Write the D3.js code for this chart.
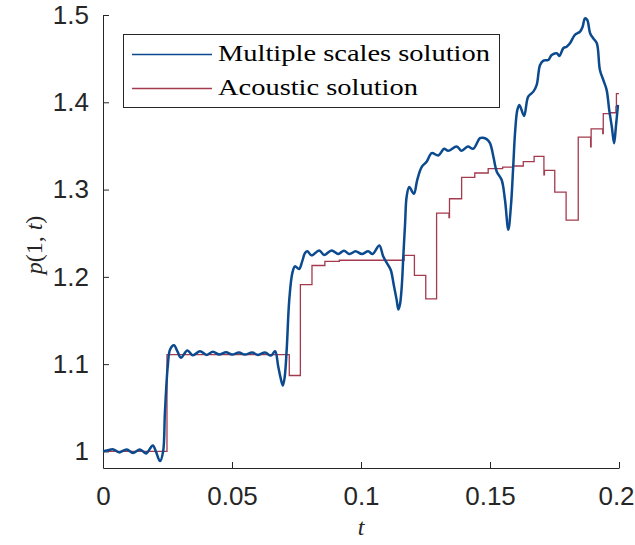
<!DOCTYPE html>
<html>
<head>
<meta charset="utf-8">
<script src="https://cdn.jsdelivr.net/npm/d3@7"></script>
<style>
  body { margin: 0; background: #fff; }
  .axis path, .axis line { stroke: #262626; stroke-width: 1; }
  .axis text { font-family: "Liberation Sans", Arial, sans-serif; font-size: 26px; fill: #262626; }
</style>
</head>
<body>
<svg id="chart" width="635" height="545"></svg>
<script>
// Tick values and labels
const xTicks = [0, 0.05, 0.1, 0.15, 0.2];
const xTickLabels = ["0", "0.05", "0.1", "0.15", "0.2"];
const yTicks = [1, 1.1, 1.2, 1.3, 1.4, 1.5];
const yTickLabels = ["1", "1.1", "1.2", "1.3", "1.4", "1.5"];
const seriesNames = ["Multiple scales solution", "Acoustic solution"];

// Multiple scales solution p(1,t)
const multipleT = [
  0, 0.0016, 0.0040, 0.0062, 0.0092, 0.0116, 0.0143, 0.0167, 0.0193, 0.0205,
  0.0221, 0.0233, 0.0240, 0.0251, 0.0260, 0.0275, 0.0289, 0.0302, 0.0327, 0.0348,
  0.0376, 0.0402, 0.0426, 0.0450, 0.0477, 0.0500, 0.0527, 0.0550, 0.0578, 0.0601,
  0.0628, 0.0651, 0.0667, 0.0679, 0.0688, 0.0697, 0.0704, 0.0712, 0.0722, 0.0734,
  0.0744, 0.0760, 0.0772, 0.0783, 0.0792, 0.0809, 0.0838, 0.0857, 0.0886, 0.0912,
  0.0934, 0.0955, 0.0979, 0.1003, 0.1028, 0.1045, 0.1071, 0.1086, 0.1100, 0.1115,
  0.1128, 0.1138, 0.1145, 0.1151, 0.1158, 0.1164, 0.1171, 0.1177, 0.1187, 0.1205,
  0.1218, 0.1235, 0.1255, 0.1274, 0.1300, 0.1322, 0.1338, 0.1371, 0.1390, 0.1414,
  0.1435, 0.1461, 0.1473, 0.1487, 0.1500, 0.1513, 0.1526, 0.1545, 0.1558, 0.1571,
  0.1581, 0.1590, 0.1597, 0.1606, 0.1614, 0.1632, 0.1648, 0.1668, 0.1681, 0.1694,
  0.1707, 0.1726, 0.1739, 0.1759, 0.1769, 0.1784, 0.1797, 0.1810, 0.1829, 0.1849,
  0.1859, 0.1868, 0.1877, 0.1888, 0.1900, 0.1914, 0.1926, 0.1939, 0.1952, 0.1962,
  0.1972, 0.1981, 0.1988, 0.1996
];
const multipleP = [
  1.000, 1.001, 1.0023, 0.9989, 1.0023, 0.9983, 1.0023, 0.9977, 1.0069, 1.000,
  0.9889, 1.000, 1.0446, 1.0976, 1.1167, 1.1216, 1.1144, 1.1072, 1.1156, 1.1102,
  1.1148, 1.1106, 1.1141, 1.1110, 1.1136, 1.1110, 1.1133, 1.1110, 1.1133, 1.1106,
  1.1133, 1.1098, 1.1148, 1.0976, 1.0847, 1.0755, 1.0847, 1.1167, 1.1739, 1.2045,
  1.2120, 1.2090, 1.2177, 1.2273, 1.2292, 1.2246, 1.2303, 1.2251, 1.2303, 1.2262,
  1.2300, 1.2262, 1.2292, 1.2262, 1.2292, 1.2262, 1.2360, 1.2235, 1.2159, 1.2082,
  1.1891, 1.1739, 1.1625, 1.1682, 1.1891, 1.2235, 1.2617, 1.2921, 1.3029, 1.2952,
  1.3112, 1.3257, 1.3322, 1.3418, 1.3390, 1.3467, 1.3444, 1.3493, 1.3444, 1.3493,
  1.3467, 1.3589, 1.3593, 1.3578, 1.3532, 1.3379, 1.3207, 1.3112, 1.2883, 1.2540,
  1.2807, 1.3264, 1.3646, 1.3913, 1.3970, 1.3844, 1.4065, 1.4122, 1.4199, 1.4428,
  1.4477, 1.4485, 1.4542, 1.4562, 1.4531, 1.4619, 1.4637, 1.4676, 1.4771, 1.4809,
  1.4866, 1.4962, 1.4943, 1.4791, 1.4733, 1.4676, 1.4371, 1.4256, 1.4142, 1.3913,
  1.3722, 1.3532, 1.3722, 1.3970
];

// Acoustic solution p(1,t): piecewise constant, each value holds until the next time
const acousticT = [
  0, 0.0248, 0.0722, 0.0765, 0.0810, 0.0860, 0.0916, 0.1167, 0.1207, 0.1251,
  0.1293, 0.1341, 0.1343, 0.1390, 0.1441, 0.1493, 0.1549, 0.1590, 0.1629, 0.1671,
  0.1709, 0.1711, 0.1751, 0.1795, 0.1842, 0.1890, 0.1892, 0.1937, 0.1939, 0.1967,
  0.1988, 0.1990, 0.2
];
const acousticP = [
  1.000, 1.111, 1.087, 1.191, 1.213, 1.2177, 1.219, 1.2246, 1.2017, 1.1747,
  1.273, 1.268, 1.2895, 1.314, 1.319, 1.324, 1.3258, 1.327, 1.332, 1.338,
  1.317, 1.322, 1.297, 1.265, 1.360, 1.349, 1.3696, 1.364, 1.387, 1.388,
  1.395, 1.410, 1.410
];

const svg = d3.select("#chart");
const x = d3.scaleLinear().domain([0, 0.2]).range([103, 619]);
const y = d3.scaleLinear().domain([0.981, 1.5]).range([468, 15]);

// Axes: ticks pointing inward, no surrounding box
const xAxis = d3.axisBottom(x).tickValues(xTicks)
  .tickFormat((d, i) => xTickLabels[i]).tickSizeInner(-6).tickSizeOuter(0).tickPadding(19);
const yAxis = d3.axisLeft(y).tickValues(yTicks)
  .tickFormat((d, i) => yTickLabels[i]).tickSizeInner(-6).tickSizeOuter(0).tickPadding(14);

const gx = svg.append("g").attr("class", "axis").attr("transform", "translate(0,468)").call(xAxis);
svg.append("g").attr("class", "axis").attr("transform", "translate(103,0)").call(yAxis);
svg.selectAll(".axis").attr("font-family", null).attr("font-size", null);
svg.selectAll(".axis .domain").attr("fill", "none");
// keep the last x tick label inside the canvas
gx.selectAll(".tick text").filter((d, i, n) => i === n.length - 1).attr("dx", -3);

const multiple = multipleT.map((t, i) => [t, multipleP[i]]);
const acoustic = acousticT.map((t, i) => [t, acousticP[i]]);

svg.append("path")
  .datum(acoustic)
  .attr("fill", "none")
  .attr("stroke", "#a33a4e")
  .attr("stroke-width", 1.3)
  .attr("d", d3.line().x(d => x(d[0])).y(d => y(d[1])).curve(d3.curveStepAfter));

svg.append("path")
  .datum(multiple)
  .attr("fill", "none")
  .attr("stroke", "#0b4a8e")
  .attr("stroke-width", 2.5)
  .attr("stroke-linejoin", "round")
  .attr("d", d3.line().x(d => x(d[0])).y(d => y(d[1])).curve(d3.curveCatmullRom.alpha(0.5)));

// Legend
const legend = svg.append("g");
legend.append("rect")
  .attr("x", 123.5).attr("y", 34.5).attr("width", 376).attr("height", 73)
  .attr("fill", "#fff").attr("stroke", "#262626").attr("stroke-width", 1);
const legendColors = ["#0b4a8e", "#a33a4e"];
seriesNames.forEach((name, i) => {
  const ly = 54.5 + i * 34;
  legend.append("line")
    .attr("x1", 132).attr("x2", 212).attr("y1", ly).attr("y2", ly)
    .attr("stroke", legendColors[i]).attr("stroke-width", 1.3);
  legend.append("text")
    .attr("x", 218).attr("y", ly + 6)
    .attr("font-family", "'Liberation Serif', 'Times New Roman', serif")
    .attr("font-size", 23)
    .attr("fill", "#000")
    .attr("textLength", i === 0 ? 272 : 200)
    .attr("lengthAdjust", "spacingAndGlyphs")
    .text(name);
});

// Axis titles
svg.append("text")
  .attr("x", 361).attr("y", 535)
  .attr("text-anchor", "middle")
  .attr("font-family", "'Liberation Serif', serif")
  .attr("font-style", "italic")
  .attr("font-size", 24)
  .attr("fill", "#262626")
  .text("t");

const yTitle = svg.append("text")
  .attr("transform", "translate(42,245) rotate(-90)")
  .attr("text-anchor", "middle")
  .attr("font-family", "'Liberation Serif', serif")
  .attr("font-size", 24)
  .attr("fill", "#262626");
yTitle.append("tspan").attr("font-style", "italic").text("p");
yTitle.append("tspan").text("(1, ");
yTitle.append("tspan").attr("font-style", "italic").text("t");
yTitle.append("tspan").text(")");
</script>
</body>
</html>
